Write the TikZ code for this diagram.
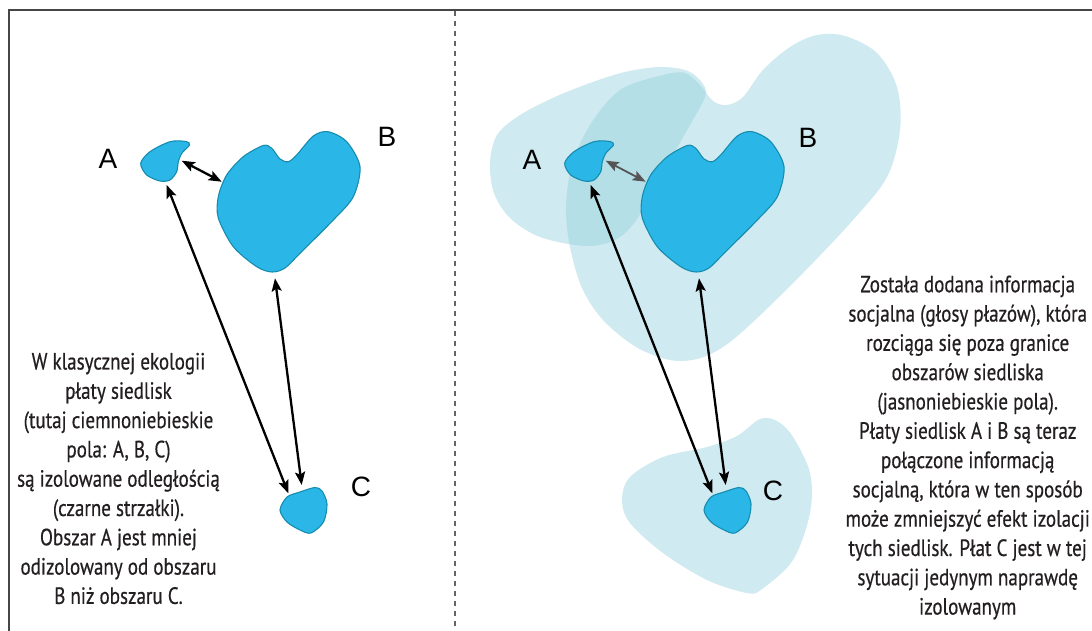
\documentclass[tikz,border=0pt]{standalone}
\usepackage{fontspec}
\usetikzlibrary{arrows.meta}
\newfontfamily\labfont{Liberation Sans}
\newfontfamily\condfont[FakeStretch=0.81,FakeBold=0.5]{PT Sans}
\definecolor{blobfill}{RGB}{42,183,232}
\definecolor{blobedge}{RGB}{22,140,175}
\definecolor{zonefill}{RGB}{150,210,222}
\definecolor{txt}{RGB}{35,31,32}
\definecolor{framec}{RGB}{70,70,70}
\definecolor{dashc}{RGB}{100,100,100}
\definecolor{grayarr}{RGB}{85,85,85}
\tikzset{
 blob/.style={fill=blobfill, draw=blobedge, line width=1.1pt},
 zone/.style={fill=zonefill, fill opacity=0.45},
 arr/.style={line width=2.3pt, {Stealth[length=13pt,width=10pt,inset=2.5pt]}-{Stealth[length=13pt,width=10pt,inset=2.5pt]}},
 lbl/.style={font=\labfont\fontsize{28}{32}\selectfont, text=black, inner sep=0pt},
 para/.style={font=\condfont\fontsize{23.5}{29.3}\selectfont, text=txt, align=center, inner sep=0pt},
}
\newcommand\blobsandarrows[2]{%
 \path[blob] plot[smooth cycle,tension=0.5] coordinates {(140.7,163.3) (150,151.7) (170,141.7) (186,141.5) (189.5,145) (182,153) (178.3,161.7) (176.7,171.7) (170,180) (160,181) (146.7,175)};
 \path[blob] plot[smooth cycle,tension=0.5] coordinates {(218.3,196.7) (226.7,175) (243.3,156.7) (263.3,145.5) (271.7,148.3) (280,159) (288.3,161.7) (296.7,155) (313.3,136) (328,131.7) (346.7,141.7) (360,166.7) (353.3,196.7) (333.3,220) (300,253.3) (285,268) (272,272) (256.7,266.7) (233.3,246.7) (218.3,218)};
 \path[blob] plot[smooth cycle,tension=0.5] coordinates {(280,510) (287,497) (300,492) (315,487.5) (322,491) (327,504) (323.5,522) (311,533) (300,530) (287,522)};
 \coordinate (#1ab1) at (181.7,160.7);
 \coordinate (#1ab2) at (221.7,181.7);
 \coordinate (#1ac1) at (166.7,185);
 \coordinate (#1ac2) at (288.3,493.3);
 \coordinate (#1bc1) at (275,278.3);
 \coordinate (#1bc2) at (301.7,485);
 \draw[arr,#2] (#1ab1) -- (#1ab2);
 \draw[arr] (#1ac1) -- (#1ac2);
 \draw[arr] (#1bc1) -- (#1bc2);
}
\begin{document}
\begin{tikzpicture}[x=1pt,y=-1pt]
\useasboundingbox[fill=white] (0,0) rectangle (1092,631);
% social information zones (right panel)
\path[zone] plot[smooth cycle,tension=0.55] coordinates {(490,163) (497,135) (520,115) (555,97) (590,83) (625,72) (660,67) (688,71) (703,84) (705,97) (690,125) (670,160) (650,195) (635,222) (615,240) (585,246) (540,237) (510,218) (494,193)};
\path[zone] plot[smooth cycle,tension=0.55] coordinates {(663,75) (620,90) (590,125) (572,165) (566,207) (570,247) (582,288) (603,320) (636,347) (670,360) (697,359) (723,347) (753,322) (803,273) (853,220) (887,177) (900,130) (897,87) (877,53) (845,36) (817,35) (790,47) (763,70) (743,97) (727,105) (713,101) (700,85) (685,73)};
\path[zone] plot[smooth cycle,tension=0.55] coordinates {(760,419) (737,436) (707,447) (663,457) (630,477) (622,500) (630,523) (663,553) (707,580) (747,593) (762,589) (793,560) (810,513) (810,473) (793,437) (777,421)};
% left panel
\blobsandarrows{l}{color=black}
% right panel
\begin{scope}[xshift=424pt]
\blobsandarrows{r}{color=grayarr, line width=1.8pt}
\end{scope}
% labels
\node[lbl] (lA) at (108,159) {A};
\node[lbl] (lB) at (387,137) {B};
\node[lbl] (lC) at (361,487) {C};
\node[lbl] (rA) at (532,160) {A};
\node[lbl] (rB) at (808,138) {B};
\node[lbl] (rC) at (773,491) {C};
% texts
\node[para] (ltext) at (118.5,478.5) {W klasycznej ekologii\\płaty siedlisk\\(tutaj ciemnoniebieskie\\pola: A, B, C)\\są izolowane odległością\\(czarne strzałki).\\Obszar A jest mniej\\odizolowany od obszaru\\B niż obszaru C.};
\node[para] (rtext) at (967.7,447.5) {Została dodana informacja\\socjalna (głosy płazów), która\\rozciąga się poza granice\\obszarów siedliska\\(jasnoniebieskie pola).\\Płaty siedlisk A i B są teraz\\połączone informacją\\socjalną, która w ten sposób\\może zmniejszyć efekt izolacji\\tych siedlisk. Płat C jest w tej\\sytuacji jedynym naprawdę\\izolowanym};
% frame and divider
\draw[framec, line width=1.5pt] (9,640) -- (9,10) -- (1100,10);
\draw[dashc, line width=1.3pt, dash pattern=on 5pt off 5pt] (455,11) -- (455,640);
\end{tikzpicture}
\end{document}
